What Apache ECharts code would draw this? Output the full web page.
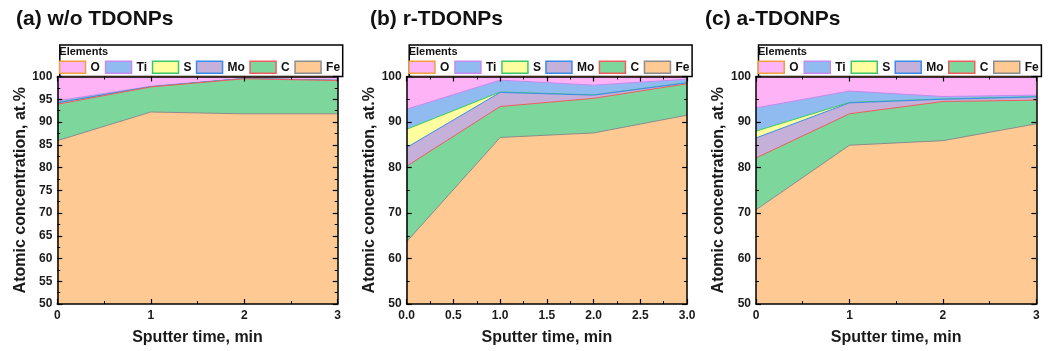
<!DOCTYPE html>
<html>
<head>
<meta charset="utf-8">
<script src="https://cdn.jsdelivr.net/npm/echarts@6/dist/echarts.min.js"></script>
<style>html,body{margin:0;padding:0;background:#fff;}#c{width:1048px;height:351px;}</style>
</head>
<body>
<div id="c"></div>
<script>
// ---- data ----
const times = [0, 1, 2, 3];
const elements = ['O', 'Ti', 'S', 'Mo', 'C', 'Fe'];        // legend order
const stackOrder = ['Fe', 'C', 'Mo', 'S', 'Ti', 'O'];      // bottom -> top
const panelTitles = ['(a) w/o TDONPs', '(b) r-TDONPs', '(c) a-TDONPs'];

// (a) w/o TDONPs, at.%
const a_Fe = [85.9, 92.2, 91.8, 91.8];
const a_C  = [8.0, 5.5, 7.7, 7.3];
const a_Mo = [0.3, 0.05, 0.05, 0.05];
const a_S  = [0.05, 0.0, 0.0, 0.0];
const a_Ti = [0.4, 0.1, 0.05, 0.05];
const a_O  = [5.35, 2.15, 0.4, 0.8];

// (b) r-TDONPs
const b_Fe = [63.7, 86.6, 87.6, 91.5];
const b_C  = [16.6, 6.8, 7.6, 6.9];
const b_Mo = [4.1, 3.1, 0.7, 0.2];
const b_S  = [4.0, 0.1, 0.05, 0.05];
const b_Ti = [4.4, 2.6, 2.15, 0.75];
const b_O  = [7.2, 0.8, 1.9, 0.6];

// (c) a-TDONPs
const c_Fe = [70.7, 84.9, 85.9, 89.6];
const c_C  = [11.4, 6.9, 8.6, 5.2];
const c_Mo = [4.4, 2.4, 0.5, 0.7];
const c_S  = [1.5, 0.1, 0.05, 0.05];
const c_Ti = [5.1, 2.5, 0.55, 0.35];
const c_O  = [6.9, 3.2, 4.4, 4.1];

const yTicksA = {min: 50, max: 100, interval: 5};
const yTicksBC = {min: 50, max: 100, interval: 10};
const xTicksAC = {min: 0, max: 3, interval: 1};
const xTicksB = {min: 0, max: 3, interval: 0.5};

// ---- styles ----
const fills   = {O:'#FDB3F5', Ti:'#8FBBF1', S:'#FFFFA0', Mo:'#C4B0D8', C:'#7DD79D', Fe:'#FFC994'};
const borders = {O:'#F0A040', Ti:'#C48AEE', S:'#3CC86A', Mo:'#3B8BEB', C:'#EE5E5E', Fe:'#8C8C8C'};
const FONT = 'Arial, "Liberation Sans", sans-serif';

const panels = [
  {data:{Fe:a_Fe,C:a_C,Mo:a_Mo,S:a_S,Ti:a_Ti,O:a_O}, y:yTicksA, x:xTicksAC, left:57.3, xfmt:v=>String(v)},
  {data:{Fe:b_Fe,C:b_C,Mo:b_Mo,S:b_S,Ti:b_Ti,O:b_O}, y:yTicksBC, x:xTicksB, left:406.7, xfmt:v=>v.toFixed(1)},
  {data:{Fe:c_Fe,C:c_C,Mo:c_Mo,S:c_S,Ti:c_Ti,O:c_O}, y:yTicksBC, x:xTicksAC, left:756, xfmt:v=>String(v)}
];
const plotW = 280.4, plotTop = 76.5, plotH = 227.5;
const legendOffsets = [1.5, 47.5, 94.5, 138.5, 192, 237];
const titleLefts = [16, 370, 705];

const grid = [], xAxis = [], yAxis = [], series = [], legend = [], title = [], graphic = [];
const axisLineStyle = {color:'#000', width:1.5};
const tick = {inside:true, length:5, lineStyle:{color:'#000', width:1.2}};
const minor = {show:true, splitNumber:2, length:3, lineStyle:{color:'#000', width:1}};

panels.forEach((p, i) => {
  grid.push({left:p.left, top:plotTop, width:plotW, height:plotH, containLabel:false});
  xAxis.push({type:'value', gridIndex:i, min:p.x.min, max:p.x.max, interval:p.x.interval,
    position:'bottom', axisLine:{show:true, onZero:false, lineStyle:axisLineStyle},
    axisTick:tick, minorTick:minor, splitLine:{show:false}, z:10,
    axisLabel:{show:true, margin:6, color:'#1a1a1a', fontSize:12, fontWeight:'bold', fontFamily:FONT, formatter:p.xfmt},
    name:'Sputter time, min', nameLocation:'middle', nameGap:26,
    nameTextStyle:{fontSize:16, fontWeight:'bold', color:'#1a1a1a', fontFamily:FONT}});
  xAxis.push({type:'value', gridIndex:i, min:p.x.min, max:p.x.max, interval:p.x.interval,
    position:'top', axisLine:{show:true, onZero:false, lineStyle:axisLineStyle}, z:10,
    axisTick:tick, minorTick:minor, splitLine:{show:false}, axisLabel:{show:false}});
  yAxis.push({type:'value', gridIndex:i, min:p.y.min, max:p.y.max, interval:p.y.interval,
    position:'left', axisLine:{show:true, onZero:false, lineStyle:axisLineStyle},
    axisTick:tick, minorTick:minor, splitLine:{show:false}, z:10,
    axisLabel:{show:true, margin:5, color:'#1a1a1a', fontSize:12, fontWeight:'bold', fontFamily:FONT},
    name:'Atomic concentration, at.%', nameLocation:'middle', nameGap:29,
    nameTextStyle:{fontSize:16, fontWeight:'bold', color:'#1a1a1a', fontFamily:FONT}});
  yAxis.push({type:'value', gridIndex:i, min:p.y.min, max:p.y.max, interval:p.y.interval,
    position:'right', axisLine:{show:true, onZero:false, lineStyle:axisLineStyle}, z:10,
    axisTick:tick, minorTick:minor, splitLine:{show:false}, axisLabel:{show:false}});

  // cumulative stacking (bottom -> top); each area filled down to the axis floor,
  // lower layers drawn above higher ones
  const cum = times.map(() => 0);
  stackOrder.forEach((el, s) => {
    const tops = times.map((t, k) => (cum[k] += p.data[el][k]));
    series.push({type:'line', name:el, xAxisIndex:i*2, yAxisIndex:i*2,
      symbol:'none', silent:true, animation:false,
      data: times.map((t, k) => [t, +tops[k].toFixed(3)]),
      lineStyle:{color:borders[el], width:1},
      itemStyle:{color:fills[el], borderColor:borders[el]},
      areaStyle:{color:fills[el], opacity:1, origin:'start'},
      z: 2 + (stackOrder.length - s) * 0.1,
      emphasis:{disabled:true}});
  });

  elements.forEach((el, k) => {
    legend.push({data:[{name:el, icon:'rect', itemStyle:{color:fills[el], borderColor:borders[el], borderWidth:1.5}}],
      left: p.left + legendOffsets[k], top: 60.5, padding:0, itemWidth:26, itemHeight:12, itemGap:0,
      selectedMode:false,
      textStyle:{fontSize:12, fontWeight:'bold', color:'#111', fontFamily:FONT, padding:[0,0,0,0]}});
  });

  title.push({text:panelTitles[i], left:titleLefts[i], top:9, padding:0,
    textStyle:{fontSize:21, fontWeight:'bold', color:'#111', fontFamily:FONT}});

  graphic.push({type:'rect', left:p.left, top:42.5, shape:{width:plotW + 2.5, height:31.5},
    style:{fill:'none', stroke:'#000', lineWidth:1.5}, silent:true});
  graphic.push({type:'text', left:p.left + 2, top:46,
    style:{text:'Elements', font:'bold 11px ' + FONT, fill:'#111'}, silent:true});
});

const chart = echarts.init(document.getElementById('c'), null, {renderer:'canvas'});
chart.setOption({animation:false, backgroundColor:'#fff', grid, xAxis, yAxis, series, legend, title, graphic});
</script>
</body>
</html>
